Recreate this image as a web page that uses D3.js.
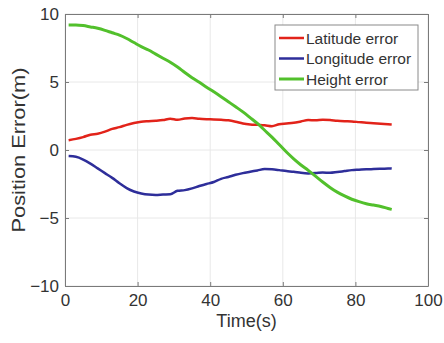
<!DOCTYPE html>
<html>
<head>
<meta charset="utf-8">
<script src="https://cdn.jsdelivr.net/npm/d3@7"></script>
<style>
  body { margin: 0; background: #fff; }
  text { font-family: "Liberation Sans", Arial, sans-serif; fill: #333; }
</style>
</head>
<body>
<div id="chart"></div>
<script>

var time = [1, 3, 5, 7, 9, 11, 13, 15, 17, 19, 21, 23, 25, 27, 29, 31, 33, 35, 37, 39, 41, 43, 45,
            47, 49, 51, 53, 55, 57, 59, 61, 63, 65, 67, 69, 71, 73, 75, 77, 79, 81, 83, 85, 87, 89, 90];

var latitudeErr = [0.72, 0.82, 0.95, 1.12, 1.2, 1.35, 1.55, 1.68, 1.85, 1.98, 2.08, 2.12, 2.15, 2.2, 2.3,
                   2.22, 2.32, 2.35, 2.3, 2.27, 2.25, 2.22, 2.18, 2.08, 1.95, 1.88, 1.85, 1.82, 1.75, 1.9,
                   1.95, 2.0, 2.1, 2.2, 2.18, 2.22, 2.2, 2.15, 2.12, 2.1, 2.05, 2.0, 1.97, 1.93, 1.9, 1.88];

var longitudeErr = [-0.45, -0.5, -0.7, -1.0, -1.35, -1.7, -2.05, -2.45, -2.8, -3.05, -3.2, -3.28, -3.3,
                    -3.27, -3.25, -3.0, -2.95, -2.82, -2.65, -2.5, -2.35, -2.12, -1.98, -1.82, -1.7, -1.6,
                    -1.5, -1.4, -1.42, -1.48, -1.55, -1.6, -1.68, -1.72, -1.7, -1.65, -1.68, -1.62, -1.55,
                    -1.48, -1.45, -1.42, -1.4, -1.38, -1.36, -1.35];

var heightErr = [9.2, 9.2, 9.15, 9.05, 8.95, 8.8, 8.62, 8.45, 8.2, 7.9, 7.6, 7.35, 7.05, 6.75, 6.45, 6.1,
                 5.7, 5.32, 4.98, 4.62, 4.28, 3.92, 3.55, 3.18, 2.8, 2.38, 1.95, 1.45, 0.95, 0.4, -0.15,
                 -0.65, -1.1, -1.5, -1.92, -2.35, -2.75, -3.1, -3.38, -3.62, -3.8, -3.95, -4.05, -4.15,
                 -4.3, -4.37];

var seriesNames = ["Latitude error", "Longitude error", "Height error"];
var seriesColors = ["#e2231a", "#2e2e9a", "#52c02c"];

var xTicks = [0, 20, 40, 60, 80, 100];
var yTicks = [-10, -5, 0, 5, 10];


ErrorVis = function (_element) {
  this.element = _element;
  this.margin = { top: 14, right: 16, bottom: 57, left: 65 };
  this.width = 444 - this.margin.left - this.margin.right;
  this.height = 343 - this.margin.top - this.margin.bottom;
  this.initVis();
}

ErrorVis.prototype.initVis = function () {
  var that = this;

  this.svg = this.element.append("svg")
      .attr("width", 444)
      .attr("height", 343)
    .append("g")
      .attr("transform", "translate(" + this.margin.left + "," + this.margin.top + ")");

  this.x = d3.scaleLinear().domain([0, 100]).range([0, this.width]);
  this.y = d3.scaleLinear().domain([-10, 10]).range([this.height, 0]);

  // grid
  this.svg.append("g").selectAll("line.gx").data(xTicks).enter().append("line")
      .attr("x1", function (d) { return that.x(d); })
      .attr("x2", function (d) { return that.x(d); })
      .attr("y1", 0).attr("y2", this.height)
      .attr("stroke", "#e8e8e8");
  this.svg.append("g").selectAll("line.gy").data(yTicks).enter().append("line")
      .attr("y1", function (d) { return that.y(d); })
      .attr("y2", function (d) { return that.y(d); })
      .attr("x1", 0).attr("x2", this.width)
      .attr("stroke", "#e8e8e8");

  // axes, ticks point inward like matlab
  var styleAxis = function (g) {
    g.select(".domain").attr("stroke", "#7a7a7a");
    g.selectAll(".tick line").attr("stroke", "#7a7a7a");
    g.selectAll(".tick text").style("font-size", "17px").attr("fill", "#3a3a3a");
  };

  this.svg.append("g")
      .attr("transform", "translate(0," + this.height + ")")
      .call(d3.axisBottom(this.x).tickValues(xTicks).tickSizeInner(-4).tickSizeOuter(0).tickPadding(8))
      .call(styleAxis);
  this.svg.append("g")
      .call(d3.axisLeft(this.y).tickValues(yTicks).tickSizeInner(-4).tickSizeOuter(0).tickPadding(6))
      .call(styleAxis);
  this.svg.append("g")
      .call(d3.axisTop(this.x).tickValues(xTicks).tickSizeInner(-4).tickSizeOuter(0).tickFormat(""))
      .call(styleAxis);
  this.svg.append("g")
      .attr("transform", "translate(" + this.width + ",0)")
      .call(d3.axisRight(this.y).tickValues(yTicks).tickSizeInner(-4).tickSizeOuter(0).tickFormat(""))
      .call(styleAxis);

  // labels
  this.svg.append("text")
      .attr("x", this.width / 2)
      .attr("y", this.height + 41)
      .attr("text-anchor", "middle")
      .style("font-size", "18px")
      .text("Time(s)");

  this.svg.append("text")
      .attr("transform", "translate(-40," + this.y(0) + ") rotate(-90)")
      .attr("text-anchor", "middle")
      .attr("textLength", 165)
      .attr("lengthAdjust", "spacingAndGlyphs")
      .style("font-size", "18px")
      .text("Position Error(m)");

  this.wrangleData();
  this.updateVis();
}

ErrorVis.prototype.wrangleData = function () {
  var lists = [latitudeErr, longitudeErr, heightErr];
  this.displayData = seriesNames.map(function (name, k) {
    return {
      name: name,
      color: seriesColors[k],
      values: time.map(function (t, i) { return { t: t, v: lists[k][i] }; })
    };
  });
}

ErrorVis.prototype.updateVis = function () {
  var that = this;

  var line = d3.line()
      .curve(d3.curveMonotoneX)
      .x(function (d) { return that.x(d.t); })
      .y(function (d) { return that.y(d.v); });

  this.svg.append("g").selectAll("path.series")
      .data(this.displayData)
      .enter()
      .append("path")
      .attr("class", "series")
      .attr("fill", "none")
      .attr("stroke", function (d) { return d.color; })
      .attr("stroke-width", function (d, i) { return i === 2 ? 3 : 2.5; })
      .attr("d", function (d) { return line(d.values); });

  // legend
  var lg = this.svg.append("g").attr("transform", "translate(" + (275 - this.margin.left) + "," + (25 - this.margin.top) + ")");
  lg.append("rect")
      .attr("width", 143).attr("height", 65)
      .attr("fill", "#fff").attr("stroke", "#8a8a8a");

  var item = lg.selectAll("g.item").data(this.displayData).enter().append("g")
      .attr("class", "item")
      .attr("transform", function (d, i) { return "translate(0," + (13 + i * 20.5) + ")"; });
  item.append("line")
      .attr("x1", 4).attr("x2", 29)
      .attr("stroke", function (d) { return d.color; })
      .attr("stroke-width", function (d, i) { return i === 2 ? 3 : 2.5; });
  item.append("text")
      .attr("x", 31).attr("dy", "0.36em")
      .style("font-size", "15.5px")
      .attr("fill", "#222")
      .text(function (d) { return d.name; });
}

var vis = new ErrorVis(d3.select("#chart"));
</script>
</body>
</html>
